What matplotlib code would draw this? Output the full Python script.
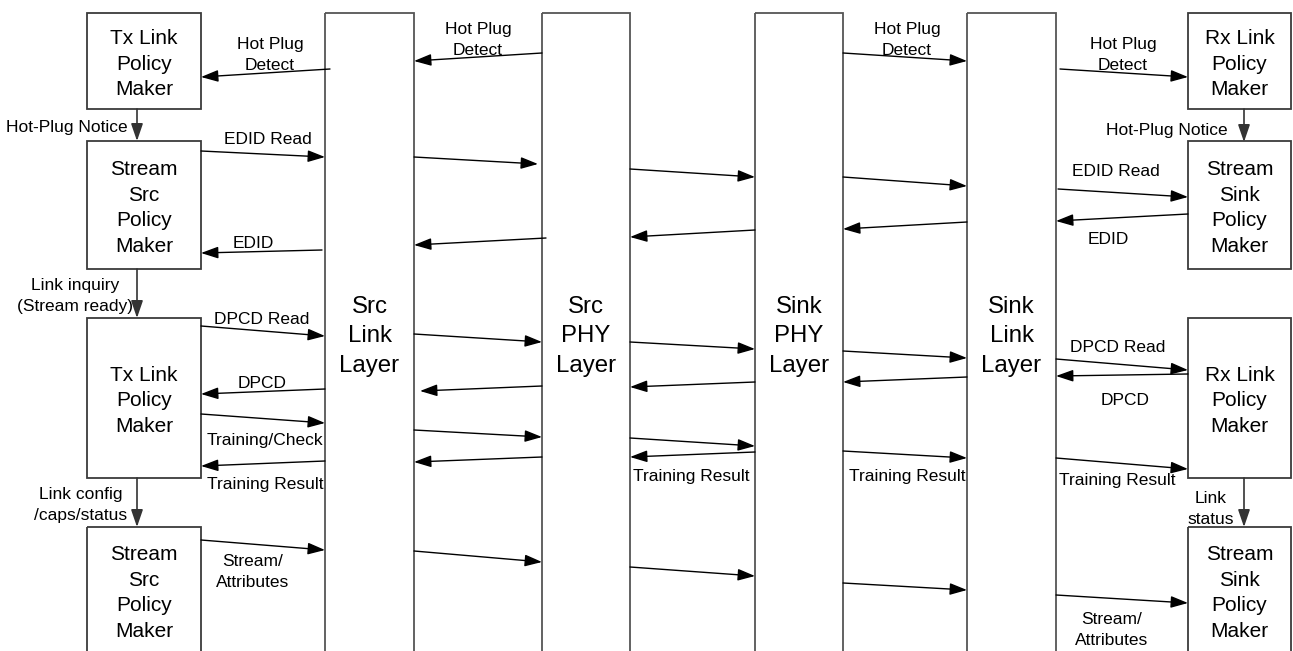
import matplotlib
matplotlib.use("Agg")
import matplotlib.pyplot as plt
from matplotlib.patches import Rectangle, FancyArrowPatch, ArrowStyle

W, H = 1293, 651
FONT = "Liberation Sans"

# ---------------- data ----------------
layer_names = ["Src\nLink\nLayer", "Src\nPHY\nLayer", "Sink\nPHY\nLayer", "Sink\nLink\nLayer"]
layer_x = [(325, 414), (542, 630), (755, 843), (967, 1056)]

left_boxes = ["Tx Link\nPolicy\nMaker", "Stream\nSrc\nPolicy\nMaker",
              "Tx Link\nPolicy\nMaker", "Stream\nSrc\nPolicy\nMaker"]
right_boxes = ["Rx Link\nPolicy\nMaker", "Stream\nSink\nPolicy\nMaker",
               "Rx Link\nPolicy\nMaker", "Stream\nSink\nPolicy\nMaker"]
box_y = [(13, 109), (141, 269), (318, 478), (527, 656)]
left_box_x = (87, 201)
right_box_x = (1188, 1291)

# messages: (x_start, y_start, x_end, y_end)
messages = [
    (330, 69, 201, 77), (542, 53, 414, 61), (843, 53, 967, 61), (1060, 69, 1188, 77),
    (201, 151, 325, 157), (414, 157, 538, 164), (630, 169, 755, 177), (843, 177, 967, 186), (1058, 189, 1188, 197),
    (1188, 214, 1056, 221), (967, 222, 843, 229), (755, 230, 630, 237), (546, 238, 414, 245), (322, 250, 201, 253),
    (201, 326, 325, 336), (414, 334, 542, 342), (630, 342, 755, 349), (843, 351, 967, 358), (1056, 359, 1188, 370),
    (1188, 374, 1056, 376), (967, 377, 843, 382), (755, 382, 630, 387), (542, 386, 420, 391), (325, 389, 201, 394),
    (201, 414, 325, 423), (414, 430, 542, 437), (630, 438, 755, 446), (843, 451, 967, 458), (1056, 458, 1188, 469),
    (755, 452, 630, 457), (542, 457, 414, 462), (325, 461, 201, 466),
    (201, 540, 325, 550), (414, 551, 542, 562), (630, 567, 755, 576), (843, 583, 967, 590), (1056, 595, 1188, 603),
]

# vertical notices: (x, y_start, y_end)
notices = [(137, 109, 141), (137, 269, 318), (137, 478, 527),
           (1244, 109, 142), (1244, 478, 527)]

# labels: (text, x, y_center_of_first_line, ha)
labels = [
    ("Hot Plug\nDetect", 270, 42, "center"),
    ("Hot Plug\nDetect", 478, 27, "center"),
    ("Hot Plug\nDetect", 907, 27, "center"),
    ("Hot Plug\nDetect", 1123, 42, "center"),
    ("Hot-Plug Notice", 67, 125, "center"),
    ("Hot-Plug Notice", 1167, 128, "center"),
    ("EDID Read", 268, 137, "center"),
    ("EDID Read", 1116, 169, "center"),
    ("EDID", 253, 241, "center"),
    ("EDID", 1108, 237, "center"),
    ("Link inquiry\n(Stream ready)", 75, 283, "center"),
    ("DPCD Read", 262, 317, "center"),
    ("DPCD", 262, 381, "center"),
    ("DPCD Read", 1118, 345, "center"),
    ("DPCD", 1125, 398, "center"),
    ("Training/Check", 265, 438, "center"),
    ("Training Result", 265, 482, "center"),
    ("Training Result", 691, 474, "center"),
    ("Training Result", 907, 474, "center"),
    ("Training Result", 1117, 478, "center"),
    ("Link config\n/caps/status", 81, 492, "center"),
    ("Link\nstatus", 1211, 496, "center"),
    ("Stream/\nAttributes", 253, 559, "center"),
    ("Stream/\nAttributes", 1112, 617, "center"),
]

# ---------------- drawing ----------------
fig = plt.figure(figsize=(W / 100, H / 100), dpi=100)
ax = fig.add_axes([0, 0, 1, 1])
ax.set_xlim(0, W)
ax.set_ylim(H, 0)
ax.axis("off")

EDGE = "#3a3a3a"
LAYER_EDGE = "#555555"


def lines_text(txt, x, y_first, pitch, size, ha="center"):
    for i, line in enumerate(txt.split("\n")):
        ax.text(x, y_first + i * pitch, line, fontsize=size, family=FONT,
                ha=ha, va="center_baseline", color="black")


def block_text(txt, xc, yc, pitch, size):
    n = len(txt.split("\n"))
    y0 = yc - (n - 1) * pitch / 2
    lines_text(txt, xc, y0 + 1, pitch, size)


for name, (x0, x1) in zip(layer_names, layer_x):
    ax.add_patch(Rectangle((x0, 13), x1 - x0, 700, fill=False, ec=LAYER_EDGE, lw=1.3))
    block_text(name, (x0 + x1) / 2, 333, 29.5, 17.3)

for names, (x0, x1) in ((left_boxes, left_box_x), (right_boxes, right_box_x)):
    for name, (y0, y1) in zip(names, box_y):
        ax.add_patch(Rectangle((x0, y0), x1 - x0, y1 - y0, fill=False, ec=EDGE, lw=1.3))
        yc = (y0 + y1) / 2 if y1 < H else 590
        block_text(name, (x0 + x1) / 2, yc, 25.5, 15)

style = ArrowStyle("-|>", head_length=10.5, head_width=3.6)
for (xs, ys, xe, ye) in messages:
    ax.add_patch(FancyArrowPatch((xs, ys), (xe, ye), arrowstyle=style, mutation_scale=1,
                                 shrinkA=0, shrinkB=0, color="black", lw=1.0))
for (x, ys, ye) in notices:
    ax.add_patch(FancyArrowPatch((x, ys), (x, ye), arrowstyle=style, mutation_scale=1,
                                 shrinkA=0, shrinkB=0, color="#333333", lw=1.2))

for txt, x, y, ha in labels:
    lines_text(txt, x, y + 1, 21, 12.5, ha)

fig.savefig("out.png", dpi=100)
